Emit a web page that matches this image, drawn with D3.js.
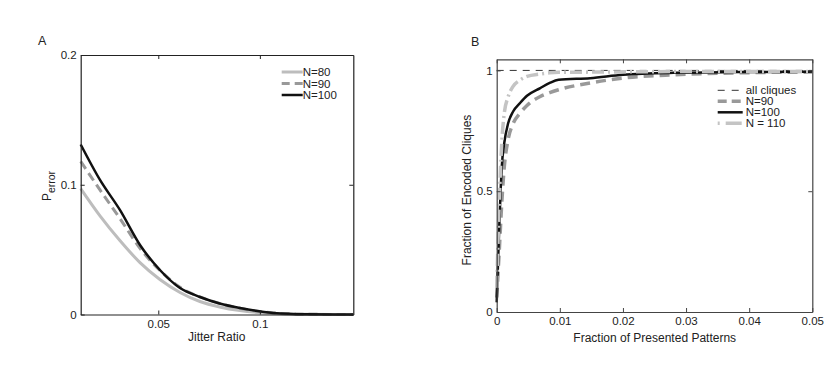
<!DOCTYPE html>
<html>
<head>
<meta charset="utf-8">
<script src="https://cdnjs.cloudflare.com/ajax/libs/d3/7.8.5/d3.min.js"></script>
<style>
  body { margin: 0; background: #fff; }
  svg text { font-family: "Liberation Sans", Arial, sans-serif; font-size: 11.5px; fill: #222; }
  .axis path, .axis line { stroke: #222; }
  .axis text { font-size: 11.5px; }
  .title { font-size: 12px; }
</style>
</head>
<body>
<div id="graphContainer"></div>
<script>
// panel A data: jitter ratio vs P_error
var jitterRatio = [0.0118, 0.0213, 0.0311, 0.041, 0.0508, 0.0607, 0.0705, 0.0802, 0.0902, 0.1066, 0.1228, 0.146];
var perrN80  = [0.097, 0.076, 0.057, 0.040, 0.027, 0.017, 0.010, 0.0058, 0.003, 0.0008, 0.0001, 0];
var perrN90  = [0.118, 0.096, 0.074, 0.051, 0.034, 0.021, 0.0135, 0.0085, 0.0048, 0.0012, 0.0002, 0];
var perrN100 = [0.131, 0.1037, 0.0806, 0.0536, 0.0343, 0.0204, 0.0135, 0.0085, 0.005, 0.0012, 0.0002, 0];

// panel B data: fraction of presented patterns vs fraction of encoded cliques
var presented   = [0, 0.0004, 0.0008, 0.0012, 0.0018, 0.0026, 0.0037, 0.0048, 0.0069, 0.0084, 0.0098, 0.0148, 0.02, 0.028, 0.0385, 0.05];
var cliquesN90  = [0.06, 0.25, 0.45, 0.60, 0.713, 0.78, 0.823, 0.855, 0.892, 0.908, 0.92, 0.948, 0.968, 0.982, 0.99, 0.993];
var cliquesN100 = [0.04, 0.35, 0.60, 0.70, 0.78, 0.83, 0.865, 0.895, 0.927, 0.948, 0.961, 0.968, 0.982, 0.99, 0.993, 0.995];
var cliquesN110 = [0.10, 0.45, 0.70, 0.823, 0.89, 0.934, 0.96, 0.975, 0.985, 0.99, 0.992, 0.993, 0.994, 0.995, 0.995, 0.996];

var ticksA_x = [0.05, 0.1], ticksA_y = [0, 0.1, 0.2];
var ticksB_x = [0, 0.01, 0.02, 0.03, 0.04, 0.05], ticksB_y = [0, 0.5, 1];

var svg = d3.select("#graphContainer").append("svg")
    .attr("width", 830).attr("height", 371);

// draws box axes with inward ticks on all 4 sides (matlab style)
function drawBox(g, x, y, xt, yt, col) {
    var w = x.range()[1] - x.range()[0], h = y.range()[0] - y.range()[1];
    var ax = g.append("g").attr("class", "axis").attr("transform", "translate(0," + h + ")")
        .call(d3.axisBottom(x).tickValues(xt).tickSizeInner(-4).tickSizeOuter(0).tickPadding(5).tickFormat(d3.format("")));
    var ay = g.append("g").attr("class", "axis")
        .call(d3.axisLeft(y).tickValues(yt).tickSizeInner(-4).tickSizeOuter(0).tickPadding(4).tickFormat(d3.format("")));
    var at = g.append("g").attr("class", "axis")
        .call(d3.axisTop(x).tickValues(xt).tickSizeInner(-4).tickSizeOuter(0).tickFormat(""));
    var ar = g.append("g").attr("class", "axis").attr("transform", "translate(" + w + ",0)")
        .call(d3.axisRight(y).tickValues(yt).tickSizeInner(-4).tickSizeOuter(0).tickFormat(""));
    [ax, ay, at, ar].forEach(function (a) {
        a.selectAll("path, line").style("stroke", col);
        a.select(".domain").style("stroke-width", 1.2);
    });
}

// ---------- panel A ----------
var xA = d3.scaleLinear().domain([0.0118, 0.146]).range([0, 272.6]);
var yA = d3.scaleLinear().domain([0, 0.2]).range([259.5, 0]);
var gA = svg.append("g").attr("transform", "translate(80.7,55)");

svg.append("text").attr("x", 38).attr("y", 45).style("font-size", "12.5px").text("A");

var lineA = function (ys) {
    return d3.line().x(function (d, i) { return xA(jitterRatio[i]); }).y(function (d) { return yA(d); })
        .curve(d3.curveMonotoneX)(ys);
};
var seriesA = [
    {name: "N=80",  vals: perrN80,  color: "#bdbdbd", width: 3,   dash: null},
    {name: "N=90",  vals: perrN90,  color: "#999999", width: 3,   dash: "9,5"},
    {name: "N=100", vals: perrN100, color: "#111111", width: 2.5, dash: null}
];
seriesA.forEach(function (s) {
    gA.append("path").attr("d", lineA(s.vals)).attr("fill", "none")
        .attr("stroke", s.color).attr("stroke-width", s.width)
        .attr("stroke-dasharray", s.dash);
});
drawBox(gA, xA, yA, ticksA_x, ticksA_y, "#222");

seriesA.forEach(function (s, i) {
    var ly = 17 + i * 11.5;
    gA.append("line").attr("x1", 201).attr("x2", 222).attr("y1", ly).attr("y2", ly)
        .attr("stroke", s.color).attr("stroke-width", s.width).attr("stroke-dasharray", s.dash ? "8,5" : null);
    gA.append("text").attr("x", 222).attr("y", ly + 4).text(s.name);
});

gA.append("text").attr("class", "title").attr("x", 136).attr("y", 286).attr("text-anchor", "middle").text("Jitter Ratio");
var pe = svg.append("text").attr("class", "title").attr("transform", "translate(51,186) rotate(-90)").attr("text-anchor", "middle");
pe.append("tspan").text("P");
pe.append("tspan").attr("dy", 4).style("font-size", "10.5px").text("error");

// ---------- panel B ----------
var xB = d3.scaleLinear().domain([0, 0.05]).range([0, 315.6]);
var yB = d3.scaleLinear().domain([0, 1.046]).range([252.7, 0]);
var gB = svg.append("g").attr("transform", "translate(496.7,59.3)");

svg.append("text").attr("x", 471).attr("y", 46).style("font-size", "12.5px").text("B");

var lineB = function (ys) {
    return d3.line().x(function (d, i) { return xB(presented[i]); }).y(function (d) { return yB(d); })
        .curve(d3.curveMonotoneX)(ys);
};

// all cliques reference
gB.append("line").attr("x1", 0).attr("x2", 315.6).attr("y1", yB(1)).attr("y2", yB(1))
    .attr("stroke", "#333").attr("stroke-width", 1).attr("stroke-dasharray", "7,6");

var seriesB = [
    {name: "N=90",    vals: cliquesN90,  color: "#999999", width: 3.5, dash: "10,6"},
    {name: "N=100",   vals: cliquesN100, color: "#111111", width: 2.5, dash: null},
    {name: "N = 110", vals: cliquesN110, color: "#c4c4c4", width: 3.5, dash: "12,4,2,4"}
];
seriesB.forEach(function (s) {
    gB.append("path").attr("d", lineB(s.vals)).attr("fill", "none")
        .attr("stroke", s.color).attr("stroke-width", s.width)
        .attr("stroke-dasharray", s.dash);
});
drawBox(gB, xB, yB, ticksB_x, ticksB_y, "#444");

var legB = [{name: "all cliques", color: "#333", width: 1}].concat(seriesB);
legB.forEach(function (s, i) {
    var ly = 31 + i * 11;
    gB.append("line").attr("x1", 221).attr("x2", 246).attr("y1", ly).attr("y2", ly)
        .attr("stroke", s.color).attr("stroke-width", s.width)
        .attr("stroke-dasharray", i === 0 ? "7,7" : (i === 1 ? "9,5" : (i === 3 ? "2,6,14,0" : null)));
    gB.append("text").attr("x", 249).attr("y", ly + 4).text(s.name);
});

gB.append("text").attr("class", "title").attr("x", 158).attr("y", 283).attr("text-anchor", "middle").text("Fraction of Presented Patterns");
svg.append("text").attr("class", "title").attr("transform", "translate(471,190) rotate(-90)").attr("text-anchor", "middle")
    .text("Fraction of Encoded Cliques");
</script>
</body>
</html>
